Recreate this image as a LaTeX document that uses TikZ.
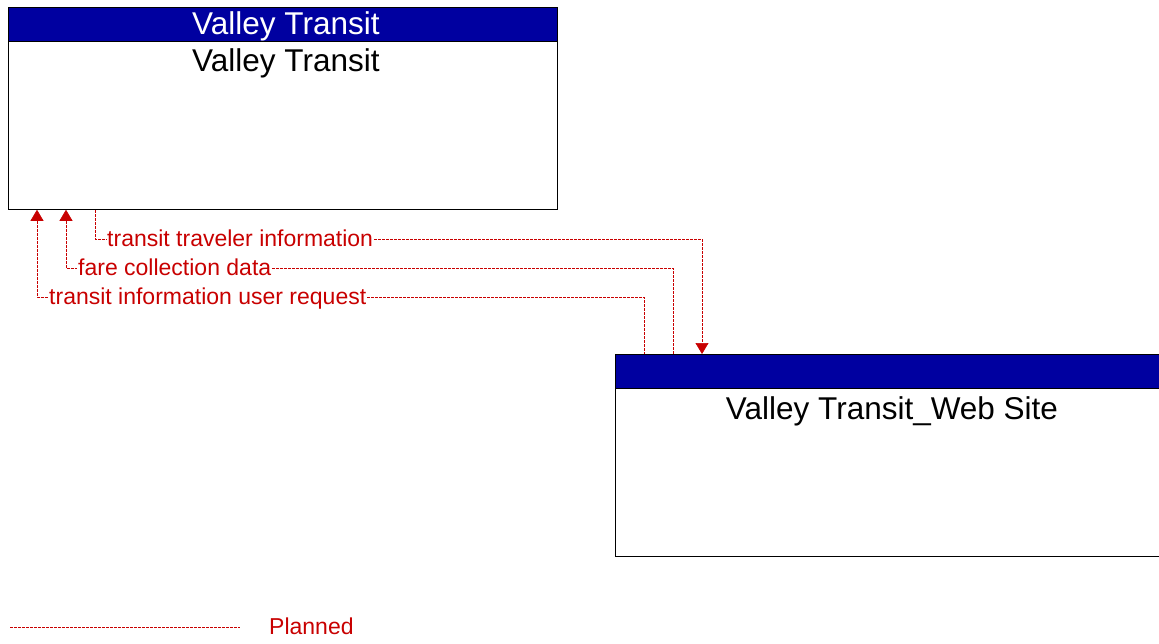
\documentclass[tikz,border=0pt]{standalone}
\usepackage{fontspec}
\setmainfont{Liberation Sans}
\usetikzlibrary{arrows.meta,positioning}

\definecolor{headblue}{RGB}{0,0,160}
\definecolor{flowred}{RGB}{200,0,0}

\begin{document}
\begin{tikzpicture}[
    x=1pt, y=-1pt,
    sysbox/.style={draw, line width=0.8pt, anchor=north west, minimum height=202pt},
    headbar/.style={draw, fill=headblue, text=white, line width=0.6pt, anchor=north, minimum height=34pt, inner sep=0pt,
        font=\fontsize{31.5}{37}\selectfont, text height=24pt, text depth=4pt},
    systitle/.style={inner sep=0pt, font=\fontsize{31.5}{37}\selectfont, text height=24pt, text depth=6pt},
    flowlabel/.style={text=flowred, inner xsep=1pt, inner ysep=0pt, anchor=west,
        font=\fontsize{23}{27}\selectfont, text height=17pt, text depth=2pt},
    flow/.style={draw=flowred, line width=0.6pt, dash pattern=on 3pt off 1pt},
    flowin/.style={flow, {Triangle[length=11pt, width=13pt]}-},
    flowout/.style={flow, -{Triangle[length=11pt, width=13pt]}}
]
\useasboundingbox (0,0) rectangle (1159,643);

% systems
\node[sysbox, minimum width=549pt] (vt) at (8,7) {};
\node[headbar, minimum width=549pt] (vthead) at (vt.north) {\hspace*{6pt}Valley Transit};
\node[systitle, below=6pt of vthead, xshift=3pt] (vttitle) {Valley Transit};

\node[sysbox, minimum width=551pt] (web) at (615,354) {};
\node[headbar, minimum width=551pt] (webhead) at (web.north) {};
\node[systitle, anchor=north] (webtitle) at (892,395) {Valley Transit\_Web Site};

% flows
\node[flowlabel] (ltrav) at (106,239) {transit traveler information};
\node[flowlabel] (lfare) at (77,268) {fare collection data};
\node[flowlabel] (lreq) at (48,297) {transit information user request};

\draw[flow] ([xshift=87pt]vt.south west) |- (ltrav.west);
\draw[flowout] (ltrav.east) -| ([xshift=87pt]web.north west);

\draw[flowin] ([xshift=58pt]vt.south west) |- (lfare.west);
\draw[flow] (lfare.east) -| ([xshift=58pt]web.north west);

\draw[flowin] ([xshift=29pt]vt.south west) |- (lreq.west);
\draw[flow] (lreq.east) -| ([xshift=29pt]web.north west);

% legend
\coordinate (lega) at (10,627);
\coordinate (legb) at (240,627);
\node[flowlabel] (legend) at (268,627) {Planned};
\draw[flow] (lega) -- (legb);
\end{tikzpicture}
\end{document}
